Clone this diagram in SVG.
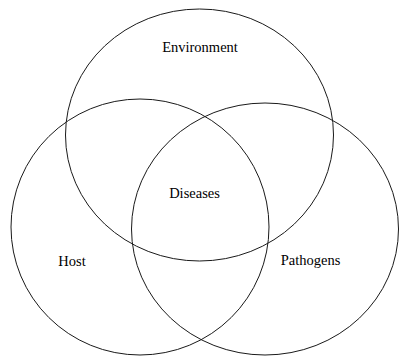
<svg xmlns="http://www.w3.org/2000/svg" width="399" height="356" viewBox="0 0 399 356">
<style>
.c{fill:none;stroke:#1a1a1a;stroke-width:1}
.t{font-family:"Liberation Serif","Times New Roman",serif;font-size:14.5px;fill:#000;text-anchor:middle}
</style>
<rect width="399" height="356" fill="#fff"/>
<g id="environment"><ellipse class="c" cx="199.5" cy="135" rx="134" ry="126"/><text class="t" x="200" y="52">Environment</text></g>
<g id="host"><ellipse class="c" cx="140" cy="227" rx="129" ry="128"/><text class="t" x="72" y="266">Host</text></g>
<g id="pathogens"><ellipse class="c" cx="265" cy="229" rx="133.5" ry="126"/><text class="t" x="310.5" y="265">Pathogens</text></g>
<g id="diseases"><text class="t" x="194.5" y="197.5">Diseases</text></g>
<g id="connectors"></g>
</svg>
